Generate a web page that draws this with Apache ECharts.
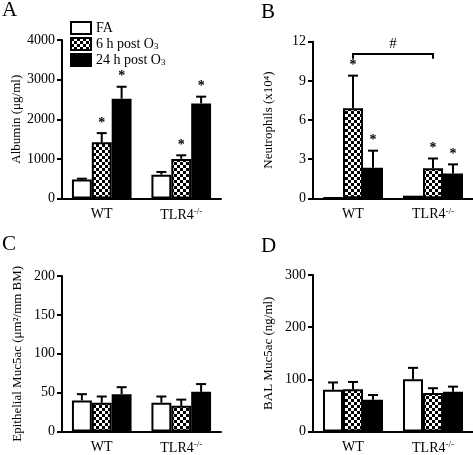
<!DOCTYPE html>
<html>
<head>
<meta charset="utf-8">
<script src="https://cdn.jsdelivr.net/npm/echarts@6/dist/echarts.min.js"></script>
<style>html,body{margin:0;padding:0;background:#fff;}#c{width:473px;height:455px;}</style>
</head>
<body>
<div id="c"></div>
<script>
// ---- data ----
const categories = ['WT', 'TLR4-/-'];
const groupNames = ['FA', '6 h post O3', '24 h post O3'];

// Panel A: Albumin (µg/ml)  [WT, TLR4-/-]
const albuminFA = [480, 600];
const albuminFAErr = [20, 70];
const albumin6h = [1420, 1000];
const albumin6hErr = [230, 90];
const albumin24h = [2520, 2400];
const albumin24hErr = [300, 170];
const albuminSig = [[0, 0], [1, 1], [1, 1]];
const albuminTicks = [0, 1000, 2000, 3000, 4000];

// Panel B: Neutrophils (x10^4)
const neutroFA = [0.05, 0.2];
const neutroFAErr = [0, 0];
const neutro6h = [6.9, 2.3];
const neutro6hErr = [2.5, 0.75];
const neutro24h = [2.35, 1.9];
const neutro24hErr = [1.3, 0.7];
const neutroSig = [[0, 0], [1, 1], [1, 1]];
const neutroTicks = [0, 3, 6, 9, 12];
const neutroBracket = [11.05, 10.7]; // bracket level, bracket end

// Panel C: Epithelial Muc5ac (µm2/mm BM)
const epiFA = [40, 37];
const epiFAErr = [8, 8];
const epi6h = [37, 33];
const epi6hErr = [8, 8];
const epi24h = [48, 51];
const epi24hErr = [9, 10];
const epiTicks = [0, 50, 100, 150, 200];

// Panel D: BAL Muc5ac (ng/ml)
const balFA = [80, 100];
const balFAErr = [14, 22];
const bal6h = [81, 74];
const bal6hErr = [14, 9];
const bal24h = [61, 76];
const bal24hErr = [9, 10];
const balTicks = [0, 100, 200, 300];

// ---- chart ----
const FONT = '"Liberation Serif", "Times New Roman", serif';

function checker() {
  const c = document.createElement('canvas');
  c.width = 6; c.height = 6;
  const g = c.getContext('2d');
  g.fillStyle = '#fff'; g.fillRect(0, 0, 6, 6);
  g.fillStyle = '#000';
  g.fillRect(0, 0, 3, 3); g.fillRect(3, 3, 3, 3);
  return c;
}
const pattern = { image: checker(), repeat: 'repeat' };
const fills = ['#ffffff', pattern, '#000000'];

const grids = [
  { left: 62, top: 40, width: 159, height: 158.5 },
  { left: 313, top: 41.7, width: 160, height: 156.6 },
  { left: 62, top: 276, width: 159, height: 157.3 },
  { left: 313, top: 275, width: 160, height: 158.3 }
];

const xAxes = grids.map((g, i) => ({
  type: 'category', gridIndex: i, data: categories,
  axisLine: { lineStyle: { color: '#000', width: 2 } },
  axisTick: { alignWithLabel: true, length: 5, lineStyle: { color: '#000', width: 2 } },
  axisLabel: {
    interval: 0, hideOverlap: false,
    color: '#000', fontFamily: FONT, fontSize: 14, margin: 9,
    formatter: v => v === 'TLR4-/-' ? 'TLR4{sup|-/-}' : v,
    rich: { sup: { fontSize: 9, fontFamily: FONT, color: '#000', verticalAlign: 'top', padding: [0, 0, 6, 0] } }
  }
}));

function yAxis(i, ticks, name) {
  return {
    type: 'value', gridIndex: i, min: ticks[0], max: ticks[ticks.length - 1],
    interval: ticks[1] - ticks[0],
    name: name, nameLocation: 'middle', nameGap: 38, nameRotate: 90,
    nameTextStyle: { color: '#000', fontFamily: FONT, fontSize: 13 },
    splitLine: { show: false },
    axisLine: { show: true, lineStyle: { color: '#000', width: 2 } },
    axisTick: { show: true, length: 5, lineStyle: { color: '#000', width: 2 } },
    axisLabel: { color: '#000', fontFamily: FONT, fontSize: 14, margin: 7, formatter: v => String(v) }
  };
}
const yAxes = [
  yAxis(0, albuminTicks, 'Albumin (\u03bcg/ml)'),
  yAxis(1, neutroTicks, 'Neutrophils (x10\u2074)'),
  yAxis(2, epiTicks, 'Epithelial Muc5ac (\u03bcm\u00b2/mm BM)'),
  yAxis(3, balTicks, 'BAL Muc5ac (ng/ml)')
];

function errRender(k) {
  return function (params, api) {
    const x = api.value(0), v = api.value(1), e = api.value(2), s = api.value(3);
    const base = api.coord([x, v]);
    const top = api.coord([x, v + e]);
    const band = api.size([1, 0])[0];
    const bw = band * 0.25;
    const cx = base[0] + (k - 1) * bw;
    const ch = [];
    if (e > 0) {
      ch.push({ type: 'line', shape: { x1: cx, y1: base[1], x2: cx, y2: top[1] }, style: { stroke: '#000', lineWidth: 2 } });
      ch.push({ type: 'line', shape: { x1: cx - 5, y1: top[1], x2: cx + 5, y2: top[1] }, style: { stroke: '#000', lineWidth: 2 } });
    }
    if (s) {
      ch.push({ type: 'text', style: { text: '*', x: cx, y: top[1] - 3, align: 'center', verticalAlign: 'bottom', font: 'bold 14px ' + FONT, fill: '#000' } });
    }
    return { type: 'group', children: ch };
  };
}

const series = [];
function addPanel(i, means, errs, sig) {
  means.forEach((m, k) => {
    series.push({
      type: 'bar', name: groupNames[k], xAxisIndex: i, yAxisIndex: i,
      data: m, barGap: '0%', barCategoryGap: '25%',
      itemStyle: { color: fills[k], borderColor: '#000', borderWidth: 2 },
      emphasis: { disabled: true }, silent: true
    });
  });
  means.forEach((m, k) => {
    series.push({
      type: 'custom', xAxisIndex: i, yAxisIndex: i, silent: true, z: 5,
      renderItem: errRender(k),
      encode: { x: 0, y: 1 },
      data: m.map((v, j) => [j, v, errs[k][j], sig ? sig[k][j] : 0])
    });
  });
}
addPanel(0, [albuminFA, albumin6h, albumin24h], [albuminFAErr, albumin6hErr, albumin24hErr], albuminSig);
addPanel(1, [neutroFA, neutro6h, neutro24h], [neutroFAErr, neutro6hErr, neutro24hErr], neutroSig);
addPanel(2, [epiFA, epi6h, epi24h], [epiFAErr, epi6hErr, epi24hErr], null);
addPanel(3, [balFA, bal6h, bal24h], [balFAErr, bal6hErr, bal24hErr], null);

// significance bracket in panel B (between WT and TLR4-/- 6 h groups)
series.push({
  type: 'custom', xAxisIndex: 1, yAxisIndex: 1, silent: true, z: 6,
  data: [[0, 1, neutroBracket[0], neutroBracket[1]]],
  renderItem: function (params, api) {
    const a = api.coord([api.value(0), api.value(2)]);
    const b = api.coord([api.value(1), api.value(2)]);
    const e = api.coord([api.value(0), api.value(3)]);
    return {
      type: 'group', children: [
        { type: 'polyline', shape: { points: [[a[0], e[1]], [a[0], a[1]], [b[0], b[1]], [b[0], e[1]]] }, style: { stroke: '#000', lineWidth: 2, fill: null } },
        { type: 'text', style: { text: '#', x: (a[0] + b[0]) / 2, y: a[1] - 3, align: 'center', verticalAlign: 'bottom', font: '15px ' + FONT, fill: '#000' } }
      ]
    };
  }
});

const letters = ['A', 'B', 'C', 'D'];
const letterPos = [[2, 0], [261, 2], [2, 234], [261, 236]];
const option = {
  animation: false,
  backgroundColor: '#fff',
  title: letters.map((t, i) => ({ text: t, left: letterPos[i][0], top: letterPos[i][1], padding: 0,
    textStyle: { fontFamily: FONT, fontSize: 21, fontWeight: 'normal', color: '#000' } })),
  legend: {
    data: groupNames, orient: 'vertical', left: 70, top: 21, padding: 0,
    itemWidth: 20, itemHeight: 12, itemGap: 2, icon: 'rect',
    selectedMode: false,
    formatter: n => n.replace('O3', 'O{sub|3}'),
    textStyle: { fontFamily: FONT, fontSize: 14, color: '#000', lineHeight: 14,
      rich: { sub: { fontFamily: FONT, fontSize: 9, color: '#000', verticalAlign: 'bottom', lineHeight: 14, padding: [5, 0, 0, 0] } } }
  },
  grid: grids,
  xAxis: xAxes,
  yAxis: yAxes,
  series: series
};
const chart = echarts.init(document.getElementById('c'), null, { renderer: 'canvas' });
chart.setOption(option);
</script>
</body>
</html>
